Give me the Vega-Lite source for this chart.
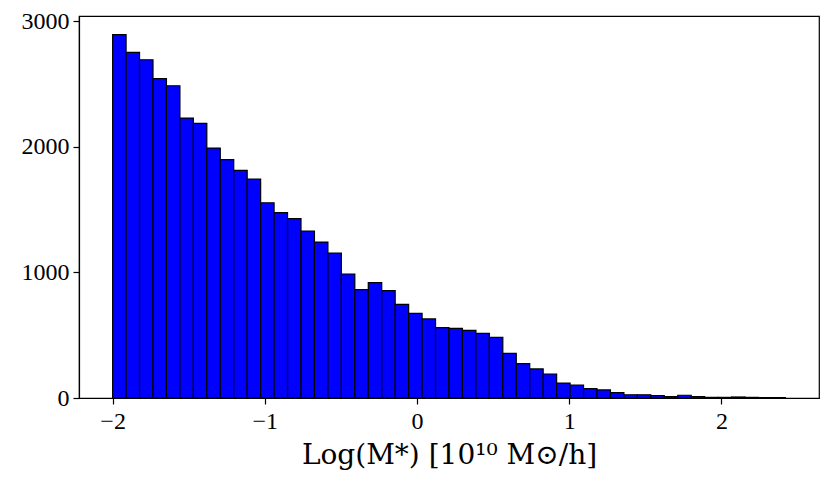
{
  "$schema": "https://vega.github.io/schema/vega-lite/v6.json",
  "width": 740,
  "height": 382,
  "autosize": {"type": "none"},
  "padding": {"left": 79, "top": 16, "right": 12, "bottom": 94},
  "background": "white",
  "config": {
    "view": {"stroke": "black", "strokeWidth": 1.2},
    "axis": {
      "grid": false,
      "domainColor": "black",
      "domainWidth": 1.2,
      "tickColor": "black",
      "tickSize": 6,
      "tickWidth": 1.2,
      "labelColor": "black",
      "labelFont": "Times New Roman, Liberation Serif, serif",
      "labelFontSize": 24,
      "titleColor": "black",
      "titleFont": "DejaVu Serif",
      "titleFontWeight": "normal"
    }
  },
  "data": {
    "values": [
      {"a": -2.0, "b": -1.9116, "n": 2891},
      {"a": -1.9116, "b": -1.8232, "n": 2751},
      {"a": -1.8232, "b": -1.7348, "n": 2692},
      {"a": -1.7348, "b": -1.6464, "n": 2541},
      {"a": -1.6464, "b": -1.558, "n": 2485},
      {"a": -1.558, "b": -1.4696, "n": 2228},
      {"a": -1.4696, "b": -1.3812, "n": 2186},
      {"a": -1.3812, "b": -1.2928, "n": 1989},
      {"a": -1.2928, "b": -1.2044, "n": 1897},
      {"a": -1.2044, "b": -1.116, "n": 1812},
      {"a": -1.116, "b": -1.0276, "n": 1743},
      {"a": -1.0276, "b": -0.9392, "n": 1554},
      {"a": -0.9392, "b": -0.8508, "n": 1475},
      {"a": -0.8508, "b": -0.7624, "n": 1427},
      {"a": -0.7624, "b": -0.674, "n": 1329},
      {"a": -0.674, "b": -0.5856, "n": 1241},
      {"a": -0.5856, "b": -0.4972, "n": 1154},
      {"a": -0.4972, "b": -0.4088, "n": 987},
      {"a": -0.4088, "b": -0.3204, "n": 862},
      {"a": -0.3204, "b": -0.232, "n": 918},
      {"a": -0.232, "b": -0.1436, "n": 854},
      {"a": -0.1436, "b": -0.0552, "n": 745},
      {"a": -0.0552, "b": 0.0332, "n": 674},
      {"a": 0.0332, "b": 0.1216, "n": 629},
      {"a": 0.1216, "b": 0.21, "n": 560},
      {"a": 0.21, "b": 0.2984, "n": 554},
      {"a": 0.2984, "b": 0.3868, "n": 538},
      {"a": 0.3868, "b": 0.4752, "n": 515},
      {"a": 0.4752, "b": 0.5636, "n": 483},
      {"a": 0.5636, "b": 0.652, "n": 355},
      {"a": 0.652, "b": 0.7404, "n": 273},
      {"a": 0.7404, "b": 0.8288, "n": 231},
      {"a": 0.8288, "b": 0.9172, "n": 191},
      {"a": 0.9172, "b": 1.0056, "n": 119},
      {"a": 1.0056, "b": 1.094, "n": 102},
      {"a": 1.094, "b": 1.1824, "n": 74},
      {"a": 1.1824, "b": 1.2708, "n": 64},
      {"a": 1.2708, "b": 1.3592, "n": 42},
      {"a": 1.3592, "b": 1.4476, "n": 26},
      {"a": 1.4476, "b": 1.536, "n": 26},
      {"a": 1.536, "b": 1.6244, "n": 19},
      {"a": 1.6244, "b": 1.7128, "n": 11},
      {"a": 1.7128, "b": 1.8012, "n": 22},
      {"a": 1.8012, "b": 1.8896, "n": 12},
      {"a": 1.8896, "b": 1.978, "n": 5},
      {"a": 1.978, "b": 2.0664, "n": 5},
      {"a": 2.0664, "b": 2.1548, "n": 8},
      {"a": 2.1548, "b": 2.2432, "n": 5},
      {"a": 2.2432, "b": 2.3316, "n": 3},
      {"a": 2.3316, "b": 2.42, "n": 3}
    ]
  },
  "mark": {"type": "bar", "fill": "#0000ff", "stroke": "black", "strokeWidth": 1.2},
  "encoding": {
    "x": {
      "field": "a",
      "type": "quantitative",
      "scale": {"domain": [-2.221, 2.641], "nice": false, "zero": false},
      "axis": {"values": [-2, -1, 0, 1, 2], "title": "Log(M*) [10¹⁰ M⊙/h]", "titleFontSize": 28, "titlePadding": 8, "labelPadding": 5}
    },
    "x2": {"field": "b"},
    "y": {
      "field": "n",
      "type": "quantitative",
      "scale": {"domain": [0, 3040], "nice": false},
      "axis": {"values": [0, 1000, 2000, 3000], "format": "d", "title": null, "labelPadding": 4}
    },
    "y2": {"datum": 0}
  }
}
